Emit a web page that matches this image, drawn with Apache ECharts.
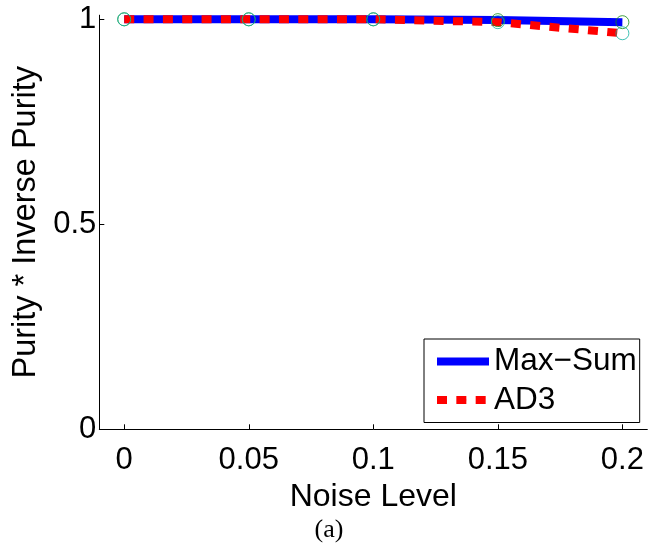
<!DOCTYPE html>
<html>
<head>
<meta charset="utf-8">
<script src="https://cdn.jsdelivr.net/npm/echarts@6/dist/echarts.min.js"></script>
<style>
  html, body { margin: 0; padding: 0; background: #ffffff; }
  #chart { width: 649px; height: 544px; }
</style>
</head>
<body>
<div id="chart"></div>
<script>
// Noise levels on the x axis
var noiseLevels = [0, 0.05, 0.1, 0.15, 0.2];
// Purity * Inverse Purity for each method
var maxSumValues = [1.0, 1.0, 1.0, 0.998, 0.993];
var ad3Values = [1.0, 1.0, 1.0, 0.993, 0.966];
// Tick positions and their text
var xTickValues = [0, 0.05, 0.1, 0.15, 0.2];
var xTickLabels = ['0', '0.05', '0.1', '0.15', '0.2'];
var yTickValues = [0, 0.5, 1];
var yTickLabels = ['0', '0.5', '1'];
var seriesNames = ['Max\u2212Sum', 'AD3'];

var FONT = 'Liberation Sans, Arial, Helvetica, sans-serif';

function pairs(xs, ys) {
  return xs.map(function (x, i) { return [x, ys[i]]; });
}
function labelFor(values, labels) {
  return function (v) {
    for (var i = 0; i < values.length; i++) {
      if (Math.abs(values[i] - v) < 1e-9) return labels[i];
    }
    return '';
  };
}

var chart = echarts.init(document.getElementById('chart'), null, { renderer: 'canvas' });

var option = {
  animation: false,
  backgroundColor: '#ffffff',
  textStyle: { fontFamily: FONT, color: '#000' },
  grid: {
    left: 99.3, top: 15.2, right: 1.7, bottom: 114.7,
    containLabel: false,
    outerBoundsMode: 'none'
  },
  xAxis: {
    type: 'value',
    min: -0.01,
    max: 0.21,
    name: 'Noise Level',
    nameLocation: 'middle',
    nameGap: 46.5,
    nameTextStyle: { fontFamily: FONT, fontSize: 32, color: '#000' },
    axisLine: { show: true, onZero: false, lineStyle: { color: '#000', width: 1 } },
    axisTick: { show: true, inside: true, length: 5, customValues: xTickValues, lineStyle: { color: '#000', width: 1 } },
    axisLabel: {
      show: true, customValues: xTickValues, margin: 16,
      fontFamily: FONT, fontSize: 31, color: '#000',
      formatter: labelFor(xTickValues, xTickLabels)
    },
    splitLine: { show: false }
  },
  yAxis: {
    type: 'value',
    min: 0,
    max: 1.01,
    name: 'Purity * Inverse Purity',
    nameLocation: 'middle',
    nameGap: 52,
    nameTextStyle: { fontFamily: FONT, fontSize: 32.5, color: '#000' },
    axisLine: { show: true, onZero: false, lineStyle: { color: '#000', width: 1 } },
    axisTick: { show: true, inside: true, length: 5, customValues: yTickValues, lineStyle: { color: '#000', width: 1 } },
    axisLabel: {
      show: true, customValues: yTickValues, margin: 3,
      fontFamily: FONT, fontSize: 31, color: '#000',
      padding: [6, 0, 0, 0],
      formatter: labelFor(yTickValues, yTickLabels)
    },
    splitLine: { show: false }
  },
  legend: {
    data: seriesNames,
    orient: 'vertical',
    left: 424,
    top: 339,
    padding: [6.5, 3, 6.5, 9],
    itemGap: 6.5,
    itemWidth: 52,
    itemHeight: 8,
    borderColor: '#000',
    borderWidth: 1,
    borderRadius: 0,
    backgroundColor: '#ffffff',
    selectedMode: false,
    lineStyle: { width: 8 },
    textStyle: { fontFamily: FONT, fontSize: 31.5, lineHeight: 32, color: '#000' }
  },
  series: [
    {
      name: seriesNames[0],
      type: 'line',
      data: pairs(noiseLevels, maxSumValues),
      symbol: 'none',
      itemStyle: { color: '#0000ff' },
      lineStyle: { color: '#0000ff', width: 8 },
      z: 2,
      silent: true
    },
    {
      name: seriesNames[1],
      type: 'line',
      data: pairs(noiseLevels, ad3Values),
      symbol: 'none',
      itemStyle: { color: '#ff0000' },
      lineStyle: { color: '#ff0000', width: 8, type: [10, 9.34] },
      z: 3,
      silent: true
    },
    {
      name: 'Max-Sum markers',
      type: 'scatter',
      data: pairs(noiseLevels, maxSumValues),
      symbol: 'circle',
      symbolSize: 13,
      itemStyle: { color: 'rgba(0,0,0,0)', borderColor: '#178c17', borderWidth: 1 },
      z: 4,
      silent: true
    },
    {
      name: 'AD3 markers',
      type: 'scatter',
      data: pairs(noiseLevels, ad3Values),
      symbol: 'circle',
      symbolSize: 13,
      itemStyle: { color: 'rgba(0,0,0,0)', borderColor: '#12b3a3', borderWidth: 1 },
      z: 5,
      silent: true
    }
  ],
  graphic: [
    {
      type: 'text',
      x: 329,
      y: 530,
      style: {
        text: '(a)',
        font: '26px "Liberation Serif", "Times New Roman", serif',
        fill: '#000',
        align: 'center',
        verticalAlign: 'middle'
      }
    }
  ]
};

chart.setOption(option);
</script>
</body>
</html>
